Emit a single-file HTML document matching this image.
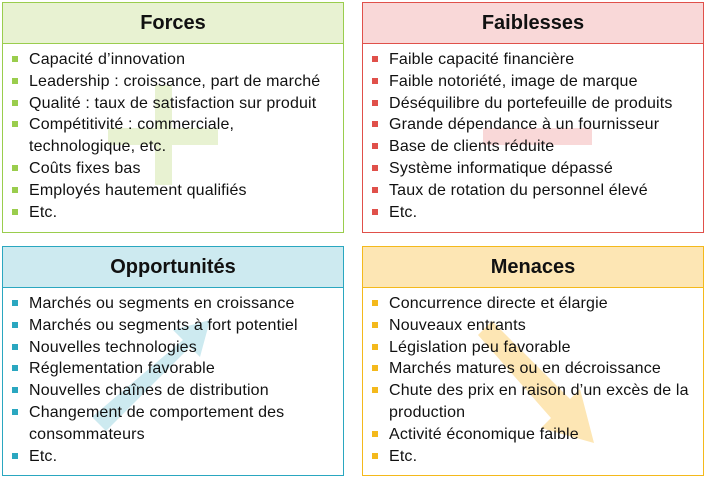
<!DOCTYPE html>
<html><head><meta charset="utf-8"><style>
body{margin:0;width:708px;height:478px;background:#fff;font-family:"Liberation Sans",sans-serif;position:relative;overflow:hidden}
.box{position:absolute;width:342px;box-sizing:border-box;border:1.5px solid}
.hd{height:40px;line-height:40px;text-align:center;font-weight:bold;font-size:20px;border-bottom:1.5px solid;color:#111}
ul{list-style:none;margin:0;padding:5px 0 0 0;position:relative;z-index:2}
li{position:relative;padding-left:26px;padding-right:4px;font-size:16px;line-height:21.8px;color:#111;letter-spacing:0.15px}
li:before{content:"";position:absolute;left:9px;top:7px;width:6px;height:6px;background:var(--c)}
svg{position:absolute;left:0;top:0;z-index:1}
</style></head><body>
<svg width="708" height="478">
<rect x="155" y="85" width="17" height="100" fill="#e8f2d2"/>
<rect x="108" y="128" width="110" height="17" fill="#e8f2d2"/>
<rect x="483" y="128" width="109" height="17" fill="#f9d8d8"/>
<polygon points="92,417 106,431 190,347 200,357 210,320 173,330 183,340" fill="#cdeaf0"/>
<polygon points="478,335 492,321 570,399 580,389 594,443 541,428 551,418" fill="#fde6b4"/>
</svg>
<div class="box" style="left:2px;top:2px;height:231px;border-color:#9acd4d;--c:#9acd4d"><div class="hd" style="background:#e8f2d2;border-color:#9acd4d">Forces</div>
<ul><li>Capacité d’innovation</li><li>Leadership : croissance, part de marché</li><li>Qualité : taux de satisfaction sur produit</li><li>Compétitivité : commerciale, technologique, etc.</li><li>Coûts fixes bas</li><li>Employés hautement qualifiés</li><li>Etc.</li></ul></div>
<div class="box" style="left:362px;top:2px;height:231px;border-color:#e0504a;--c:#e0504a"><div class="hd" style="background:#f9d8d8;border-color:#e0504a">Faiblesses</div>
<ul><li>Faible capacité financière</li><li>Faible notoriété, image de marque</li><li>Déséquilibre du portefeuille de produits</li><li>Grande dépendance à un fournisseur</li><li>Base de clients réduite</li><li>Système informatique dépassé</li><li>Taux de rotation du personnel élevé</li><li>Etc.</li></ul></div>
<div class="box" style="left:2px;top:246px;height:230px;border-color:#2aa7c0;--c:#2aa7c0"><div class="hd" style="background:#cdeaf0;border-color:#2aa7c0">Opportunités</div>
<ul><li>Marchés ou segments en croissance</li><li>Marchés ou segments à fort potentiel</li><li>Nouvelles technologies</li><li>Réglementation favorable</li><li>Nouvelles chaînes de distribution</li><li>Changement de comportement des consommateurs</li><li>Etc.</li></ul></div>
<div class="box" style="left:362px;top:246px;height:230px;border-color:#f4b91c;--c:#f4b91c"><div class="hd" style="background:#fde6b4;border-color:#f4b91c">Menaces</div>
<ul><li>Concurrence directe et élargie</li><li>Nouveaux entrants</li><li>Législation peu favorable</li><li>Marchés matures ou en décroissance</li><li>Chute des prix en raison d’un excès de la production</li><li>Activité économique faible</li><li>Etc.</li></ul></div>
</body></html>
